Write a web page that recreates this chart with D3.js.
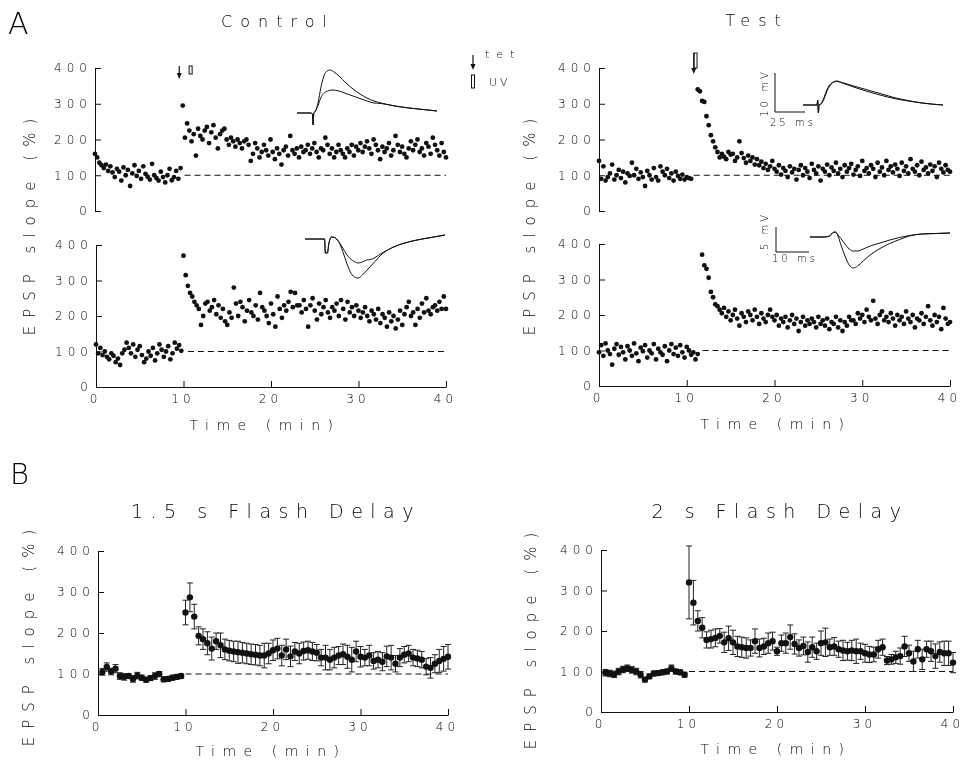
<!DOCTYPE html>
<html>
<head>
<meta charset="utf-8">
<script src="https://cdn.jsdelivr.net/npm/d3@7"></script>
<style>
  body { margin: 0; background: #fff; }
  svg { will-change: transform; }
  text { font-family: "DejaVu Sans", sans-serif; fill: #000; font-weight: 200; opacity: 0.99; }
</style>
</head>
<body>
<div id="chart"></div>
<script>
// ---- data (EPSP slope, % of baseline) ----
const dtA = 0.25;   // min between single sweeps (panel A)
const dtB = 0.5;    // min between averaged points (panel B)

const ctrlTopPreStart = 0;
const ctrlTopPre = [160,150,135,128,120,130,112,125,108,95,118,110,85,122,100,115,70,105,128,98,
  112,90,125,104,96,88,132,100,92,85,110,95,80,100,118,86,95,112,90,120];
const ctrlTopPostStart = 10;
const ctrlTopPost = [295,205,245,225,195,215,155,230,210,200,225,235,190,220,240,205,175,215,225,230,
  200,185,205,195,180,200,190,175,195,200,185,140,160,190,175,150,165,185,170,155,
  200,165,145,175,160,130,170,180,155,210,170,160,175,150,180,165,170,185,160,175,
  190,165,150,175,170,205,185,160,175,150,165,185,170,160,150,175,165,185,155,180,
  170,190,165,180,195,175,160,200,185,170,145,180,165,175,190,155,170,210,185,165,
  180,160,150,175,195,170,185,200,165,175,155,190,180,160,205,185,170,155,190,165,150];

const ctrlBotPreStart = 0;
const ctrlBotPre = [120,95,110,90,100,85,78,95,88,70,80,62,95,105,125,110,95,120,85,105,
  115,90,70,80,100,88,110,75,95,120,105,85,100,115,78,95,125,108,118,102];
const ctrlBotPostStart = 10;
const ctrlBotPost = [370,315,285,265,255,240,230,220,175,200,235,240,215,225,245,205,230,195,220,185,
  175,210,195,280,235,200,240,225,185,215,245,210,200,230,190,265,225,215,200,180,
  235,205,170,255,220,195,230,215,240,268,225,265,230,230,210,245,220,170,230,250,
  215,190,235,205,225,245,210,195,225,215,235,200,245,220,190,240,210,225,200,230,
  215,195,210,225,200,185,215,205,190,220,180,205,195,170,210,185,200,165,190,215,
  175,205,225,240,200,210,175,220,195,235,210,250,215,205,225,230,215,240,220,255,220];

const testTopPreStart = 0;
const testTopPre = [140,90,125,85,95,105,130,88,100,115,92,110,80,105,98,135,100,118,90,108,
  95,70,112,100,88,120,95,85,125,110,100,118,92,105,85,110,98,90,102,88,95,92,90];
const testTopPostStart = 11.25;
const testTopPost = [340,335,308,305,265,240,212,195,178,165,150,160,152,145,165,158,160,140,150,195,
  162,148,135,155,140,150,130,145,128,138,120,132,115,125,140,118,110,128,102,120,
  112,95,125,108,118,88,115,128,100,120,110,92,132,115,105,125,85,118,110,130,
  100,122,112,135,105,118,95,128,110,120,132,102,115,125,98,140,112,120,105,128,
  118,95,135,110,122,100,140,115,125,108,130,118,98,135,112,125,105,145,118,110,
  128,100,138,115,122,105,130,112,125,95,135,118,108,128,115,110];

const testBotPreStart = 0;
const testBotPre = [95,115,85,120,100,90,60,105,118,88,110,95,75,112,100,85,120,92,70,108,
  98,115,80,100,92,118,75,105,95,88,112,70,100,118,90,108,85,115,95,80,110,100,88,95,75,90];
const testBotPostStart = 11.75;
const testBotPost = [370,340,330,305,265,250,230,225,215,205,220,195,210,185,200,215,190,170,205,195,
  180,210,200,185,215,195,175,205,190,180,200,215,195,185,200,170,190,180,195,165,
  185,200,175,190,155,180,195,170,185,175,190,180,165,195,175,185,170,190,160,180,
  175,195,165,185,155,180,170,195,185,185,175,205,190,200,180,215,195,185,240,190,
  175,200,210,185,195,180,205,190,170,200,185,195,175,210,190,180,200,165,190,185,
  205,175,195,225,185,170,200,180,195,160,220,190,175,180];

const bLeftPreStart = 0.5;
const bLeftPre = [105,117,106,113,95,93,95,88,96,91,86,90,95,100,87,88,91,93,95];
const bLeftPreErr = [8,10,8,10,8,8,6,8,8,6,6,6,8,6,6,6,6,6,5];
const bLeftPostStart = 10;
const bLeftPost = [250,287,240,193,185,175,162,180,170,160,157,155,153,152,150,148,147,145,145,150,
  158,162,145,160,143,155,150,156,158,155,152,140,140,135,140,145,148,142,135,155,
  142,140,145,132,135,130,143,140,125,140,147,150,140,138,135,118,115,125,132,137,142];
const bLeftPostErr = [30,35,30,22,25,28,28,20,30,25,25,25,27,25,25,25,25,25,30,25,
  25,25,25,25,25,22,25,22,22,22,20,20,30,25,25,22,25,28,30,25,
  25,20,25,20,20,22,25,30,20,22,20,20,20,20,20,20,25,22,28,30,30];

const bRightPreStart = 0.5;
const bRightPre = [97,95,93,100,105,108,104,100,92,80,88,95,96,98,100,108,100,98,92];
const bRightPreErr = [8,8,8,8,8,8,8,8,8,6,6,6,6,6,6,8,6,6,6];
const bRightPostStart = 10;
const bRightPost = [320,270,225,208,178,180,183,188,172,182,172,162,160,158,158,175,158,162,170,175,
  150,170,170,185,168,158,163,148,160,150,170,172,160,162,155,152,150,152,150,150,
  145,142,142,155,160,127,130,135,138,162,145,125,155,130,155,150,138,148,145,145,122];
const bRightPostErr = [90,55,25,25,20,22,22,18,25,30,30,25,25,25,20,30,22,20,25,22,
  10,20,25,30,25,20,22,25,25,20,30,35,20,22,20,25,22,25,30,20,
  22,20,18,22,20,10,12,15,20,25,20,25,22,25,20,25,30,25,30,30,25];

// example EPSP traces (inset), [ms, relative amplitude]
const ctrlEpspBig = [[0,0],[8,0],[10,0],[11,-0.2],[11.5,-2.4],[12,0],[13,0.3],[15,2],[17,5],[19,7.2],[21,8.3],[23.5,8.6],[26,8.3],[30,7.4],[35,6.0],[40,4.8],[45,3.8],[50,3.0],[55,2.4],[60,2.0],[70,1.4],[80,1.0],[90,0.7],[100,0.4]];
const ctrlEpspSmall = [[0,0],[10,0],[11,-0.2],[11.5,-2.4],[12,0],[13,0.3],[15,1.5],[17,3.0],[19,3.9],[22,4.4],[25,4.6],[30,4.4],[35,3.9],[40,3.4],[45,2.9],[50,2.4],[55,2.0],[60,1.9],[70,1.4],[80,1.0],[90,0.7],[100,0.4]];
const ctrlFieldBig = [[0,0],[14,0],[14.5,-2.8],[16,-2.8],[17,-1],[19,0.4],[21,0.3],[24,-0.5],[27,-2.5],[30,-5],[33,-6.9],[36,-7.7],[38,-7.8],[41,-7.2],[45,-6],[50,-4.5],[55,-3.0],[59,-2.2],[65,-1.4],[70,-0.9],[80,-0.2],[90,0.3],[100,0.8]];
const ctrlFieldSmall = [[0,0],[14,0],[14.5,-2.8],[16,-2.8],[17,-1],[19,0.4],[21,0.3],[24,-0.5],[27,-1.8],[30,-3.2],[34,-4.3],[38,-4.8],[41,-4.6],[44,-4.2],[47,-4.1],[50,-3.7],[55,-2.8],[59,-2.2],[65,-1.4],[70,-0.9],[80,-0.2],[90,0.3],[100,0.8]];
const testEpspA = [[0,0],[10,0],[10.5,1],[11,-1.6],[11.5,0],[13,0.3],[15,1.5],[17,3],[19,4],[21,4.5],[24,4.8],[28,4.5],[35,3.9],[45,3.1],[55,2.3],[65,1.5],[75,0.9],[85,0.4],[100,0]];
const testEpspB = [[0,0],[10,0],[10.5,1],[11,-1.6],[11.5,0],[13,0.2],[15,1.2],[17,2.7],[19,3.8],[21,4.4],[24,4.7],[28,4.4],[35,3.7],[45,2.8],[55,2.0],[65,1.3],[75,0.8],[85,0.4],[100,0]];
const testFieldBig = [[0,0],[10,0],[14,0.2],[16,0.8],[18,1.0],[20,0.2],[22,-1.5],[25,-3.8],[28,-5.6],[31,-6.2],[34,-5.8],[38,-4.8],[43,-3.6],[50,-2.3],[57,-1.3],[64,-0.5],[71,0.2],[80,0.6],[90,0.7],[100,0.8]];
const testFieldSmall = [[0,0],[10,0],[14,0.2],[16,0.8],[18,1.0],[20,0.4],[22,-0.3],[25,-1.4],[28,-2.4],[31,-2.8],[34,-2.8],[38,-2.4],[43,-1.8],[50,-1.2],[57,-0.6],[64,-0.1],[71,0.3],[80,0.6],[90,0.7],[100,0.8]];

const yTicks = [0, 100, 200, 300, 400];
const xTicks = [0, 10, 20, 30, 40];

// ---- drawing ----
const svg = d3.select("#chart").append("svg")
  .attr("width", 964).attr("height", 761);

function toPts(start, dt, vals, errs) {
  return vals.map((v, i) => ({ t: start + i * dt, v: v, e: errs ? errs[i] : 0 }));
}

function panel(o) {
  var x = d3.scaleLinear().domain([0, 40]).range([o.left, o.right]);
  var y = d3.scaleLinear().domain([0, 400]).range([o.bottom, o.top]);
  var g = svg.append("g");

  var ya = g.append("g")
    .attr("transform", "translate(" + o.left + ",0)")
    .call(d3.axisLeft(y).tickValues(yTicks).tickSizeInner(-6).tickSizeOuter(0).tickPadding(3));
  ya.selectAll("text").style("letter-spacing", "5px");
  if (o.xAxis) {
    var xa = g.append("g")
      .attr("transform", "translate(0," + o.bottom + ")")
      .call(d3.axisBottom(x).tickValues(xTicks).tickSizeInner(-6).tickSizeOuter(0).tickPadding(7));
    xa.selectAll("text").style("letter-spacing", "4px").attr("dx", -1);
  }
  g.selectAll(".domain, .tick line").attr("stroke", "#111");
  g.selectAll(".tick text")
    .style("font-family", '"DejaVu Sans", sans-serif')
    .style("font-size", "12px")
    .attr("fill", "#000");

  // baseline
  g.append("line")
    .attr("x1", x(o.dashFrom)).attr("x2", x(40))
    .attr("y1", y(100)).attr("y2", y(100))
    .attr("stroke", "#111").attr("stroke-dasharray", "6,4");

  return { x: x, y: y, g: g };
}

function dots(p, data, r) {
  p.g.append("g").selectAll("circle")
    .data(data).enter().append("circle")
    .attr("cx", d => p.x(d.t))
    .attr("cy", d => p.y(d.v))
    .attr("r", r)
    .attr("fill", "#111");
}

function errBars(p, data) {
  var eg = p.g.append("g").attr("stroke", "#222").attr("stroke-width", 1);
  eg.selectAll("line.v").data(data).enter().append("line")
    .attr("x1", d => p.x(d.t)).attr("x2", d => p.x(d.t))
    .attr("y1", d => p.y(d.v - d.e)).attr("y2", d => p.y(d.v + d.e));
  eg.selectAll("line.hi").data(data).enter().append("line")
    .attr("x1", d => p.x(d.t) - 3).attr("x2", d => p.x(d.t) + 3)
    .attr("y1", d => p.y(d.v + d.e)).attr("y2", d => p.y(d.v + d.e));
  eg.selectAll("line.lo").data(data).enter().append("line")
    .attr("x1", d => p.x(d.t) - 3).attr("x2", d => p.x(d.t) + 3)
    .attr("y1", d => p.y(d.v - d.e)).attr("y2", d => p.y(d.v - d.e));
}

function label(txt, x, y, size, ls, anchor, rotate) {
  var t = svg.append("text").text(txt)
    .attr("font-size", size)
    .style("letter-spacing", ls + "px")
    .attr("text-anchor", anchor || "start");
  if (rotate) t.attr("transform", "translate(" + x + "," + y + ") rotate(-90)");
  else t.attr("x", x).attr("y", y);
  return t;
}

function trace(box, pts) {
  var x = d3.scaleLinear().domain([0, 100]).range([box.x0, box.x1]);
  var y = d3.scaleLinear().domain([0, 1]).range([box.base, box.base - 5]);
  svg.append("path")
    .attr("d", d3.line().x(d => x(d[0])).y(d => y(d[1])).curve(d3.curveMonotoneX)(pts))
    .attr("fill", "none").attr("stroke", "#111").attr("stroke-width", 1);
}

function arrow(x, y1, y2) {
  svg.append("line").attr("x1", x).attr("x2", x).attr("y1", y1).attr("y2", y2 - 3)
    .attr("stroke", "#111").attr("stroke-width", 1.2);
  svg.append("path")
    .attr("d", "M" + (x - 2.5) + "," + (y2 - 6) + "L" + (x + 2.5) + "," + (y2 - 6) + "L" + x + "," + y2 + "Z")
    .attr("fill", "#111");
}

function uvMark(x, y1, y2) {
  svg.append("rect").attr("x", x - 1.5).attr("y", y1).attr("width", 3).attr("height", y2 - y1)
    .attr("fill", "#fff").attr("stroke", "#111").attr("stroke-width", 1);
}

// panel A
var pCT = panel({ left: 95, right: 446, top: 68, bottom: 211, xAxis: false, dashFrom: 10.2 });
var pCB = panel({ left: 96, right: 446, top: 245, bottom: 387, xAxis: true, dashFrom: 10.5 });
var pTT = panel({ left: 599, right: 950, top: 68, bottom: 211, xAxis: false, dashFrom: 10.8 });
var pTB = panel({ left: 599, right: 950, top: 244, bottom: 386, xAxis: true, dashFrom: 11.8 });

dots(pCT, toPts(ctrlTopPreStart, dtA, ctrlTopPre).concat(toPts(ctrlTopPostStart, dtA, ctrlTopPost)), 2.4);
dots(pCB, toPts(ctrlBotPreStart, dtA, ctrlBotPre).concat(toPts(ctrlBotPostStart, dtA, ctrlBotPost)), 2.4);
dots(pTT, toPts(testTopPreStart, dtA, testTopPre).concat(toPts(testTopPostStart, dtA, testTopPost)), 2.4);
dots(pTB, toPts(testBotPreStart, dtA, testBotPre).concat(toPts(testBotPostStart, dtA, testBotPost)), 2.4);

// panel B
var pBL = panel({ left: 98, right: 448, top: 551, bottom: 715, xAxis: true, dashFrom: 10 });
var pBR = panel({ left: 601, right: 953, top: 550, bottom: 712, xAxis: true, dashFrom: 10 });
var bl = toPts(bLeftPreStart, dtB, bLeftPre, bLeftPreErr).concat(toPts(bLeftPostStart, dtB, bLeftPost, bLeftPostErr));
var br = toPts(bRightPreStart, dtB, bRightPre, bRightPreErr).concat(toPts(bRightPostStart, dtB, bRightPost, bRightPostErr));
errBars(pBL, bl); dots(pBL, bl, 3.2);
errBars(pBR, br); dots(pBR, br, 3.2);

// insets
trace({ x0: 297, x1: 437, base: 113 }, ctrlEpspBig);
trace({ x0: 297, x1: 437, base: 113 }, ctrlEpspSmall);
trace({ x0: 305, x1: 445, base: 239 }, ctrlFieldBig);
trace({ x0: 305, x1: 445, base: 239 }, ctrlFieldSmall);
trace({ x0: 803, x1: 943, base: 105 }, testEpspA);
trace({ x0: 803, x1: 943, base: 105 }, testEpspB);
trace({ x0: 810, x1: 950, base: 237 }, testFieldBig);
trace({ x0: 810, x1: 950, base: 237 }, testFieldSmall);

// scale bars
svg.append("path").attr("d", "M775,73V112H805").attr("fill", "none").attr("stroke", "#111");
svg.append("path").attr("d", "M776,227V252H809").attr("fill", "none").attr("stroke", "#111");
label("10 mV", 768, 93, 10, 3, "middle", true);
label("25 ms", 770, 126, 10, 3, "start");
label(".5 mV", 768, 234, 10, 3, "middle", true);
label("10 ms", 772, 262, 10, 3, "start");

// tetanus / UV markers
arrow(pCT.x(9.6), 66, 79);
uvMark(pCT.x(10.9), 66, 74);
uvMark(pTT.x(11.0), 53, 68);
arrow(pTT.x(10.8), 53, 74);
// legend
arrow(473, 55, 70);
label("tet", 485, 58, 11, 7);
uvMark(473, 75, 88);
label("UV", 489, 86, 11, 3);

// titles & axis labels
label("A", 8, 34, 30, 0);
label("B", 10, 484, 29, 0);
label("Control", 278, 27, 16, 8, "middle");
label("Test", 757, 26, 16, 8, "middle");
label("1.5 s Flash Delay", 276, 518, 19, 7.5, "middle");
label("2 s Flash Delay", 780, 518, 19, 7.5, "middle");
label("EPSP slope (%)", 35, 223, 15, 8, "middle", true);
label("EPSP slope (%)", 535, 223, 15, 8, "middle", true);
label("EPSP slope (%)", 34, 634, 15, 8, "middle", true);
label("EPSP slope (%)", 536, 637, 15, 8, "middle", true);
label("Time (min)", 265, 430, 14, 7.5, "middle");
label("Time (min)", 776, 429, 14, 7.5, "middle");
label("Time (min)", 271, 756, 14, 7.5, "middle");
label("Time (min)", 776, 754, 14, 7.5, "middle");
</script>
</body>
</html>
